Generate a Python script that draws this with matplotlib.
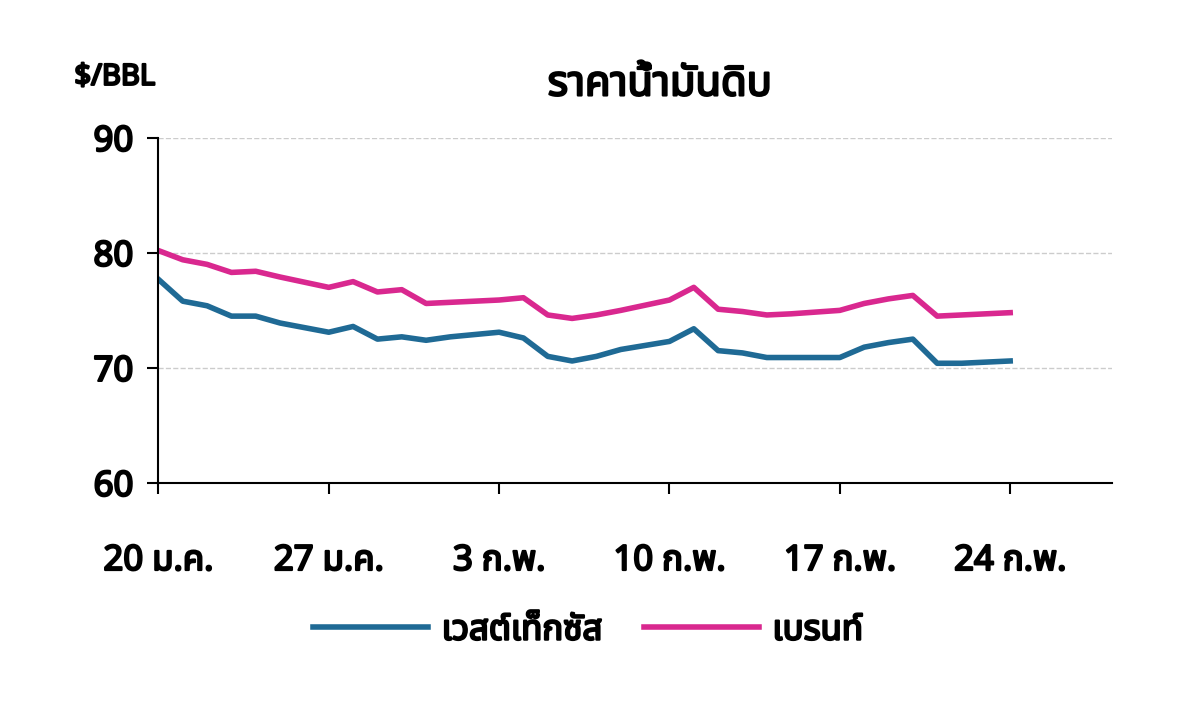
import matplotlib
matplotlib.use("Agg")
import matplotlib.pyplot as plt
import matplotlib.patheffects as pe
from matplotlib import font_manager
from matplotlib.lines import Line2D

# day offsets from 20 Jan
days = [0, 1, 2, 3, 4, 5, 7, 8, 9, 10, 11, 12, 14, 15, 16, 17, 18, 19, 21, 22,
        23, 24, 25, 26, 28, 29, 30, 31, 32, 33, 35]
wti = [77.7, 75.8, 75.4, 74.5, 74.5, 73.9, 73.1, 73.6, 72.5, 72.7, 72.4, 72.7,
       73.1, 72.6, 71.0, 70.6, 71.0, 71.6, 72.3, 73.4, 71.5, 71.3, 70.9, 70.9,
       70.9, 71.8, 72.2, 72.5, 70.4, 70.4, 70.6]
brent = [80.2, 79.4, 79.0, 78.3, 78.4, 77.9, 77.0, 77.5, 76.6, 76.8, 75.6, 75.7,
         75.9, 76.1, 74.6, 74.3, 74.6, 75.0, 75.9, 77.0, 75.1, 74.9, 74.6, 74.7,
         75.0, 75.6, 76.0, 76.3, 74.5, 74.6, 74.8]
tick_days = [0, 7, 14, 21, 28, 35]
tick_labels = ["20 ม.ค.", "27 ม.ค.", "3 ก.พ.", "10 ก.พ.", "17 ก.พ.", "24 ก.พ."]

names = {f.name for f in font_manager.fontManager.ttflist}
thai = [n for n in ["Noto Sans Thai", "Noto Sans Thai Looped", "Loma", "Garuda",
                    "Tlwg Typist", "Noto Sans"] if n in names]
plt.rcParams["font.family"] = thai + ["DejaVu Sans"]
plt.rcParams["font.weight"] = "bold"

heavy = [pe.withStroke(linewidth=1.6, foreground="black")]

fig = plt.figure(figsize=(12, 7.07), dpi=100)
ax = fig.add_axes([0.132, 0.317, 0.795, 0.488])
ax.plot(days, wti, color="#1f6a95", lw=4)
ax.plot(days, brent, color="#d9288f", lw=4)
ax.set_xlim(0, 39.2)
ax.set_ylim(60, 90)
ax.set_yticks([60, 70, 80, 90])
ax.set_xticks(tick_days)
ax.set_xticklabels(tick_labels)
ax.tick_params(axis="y", labelsize=25, length=8, width=1.5, direction="out", pad=10)
ax.tick_params(axis="x", labelsize=25, length=8, width=1.5, pad=36)
for lab in ax.get_xticklabels() + ax.get_yticklabels():
    lab.set_path_effects(heavy)
ax.grid(axis="y", ls="--", color="#cccccc", lw=1)
for s in ["top", "right"]:
    ax.spines[s].set_visible(False)
for s in ["left", "bottom"]:
    ax.spines[s].set_linewidth(1.5)

fig.text(0.062, 0.88, "$/BBL", fontsize=21, path_effects=heavy)
fig.text(0.55, 0.865, "ราคาน้ำมันดิบ", fontsize=30, ha="center", path_effects=heavy)

h = [Line2D([], [], color="#1f6a95", lw=4), Line2D([], [], color="#d9288f", lw=4)]
leg = fig.legend(h, ["เวสต์เท็กซัส", "เบรนท์"], loc="center", bbox_to_anchor=(0.49, 0.108),
                 ncol=2, frameon=False, fontsize=25, handlelength=3.3,
                 handletextpad=0.4, columnspacing=1.2)
for t in leg.get_texts():
    t.set_path_effects(heavy)
fig.savefig("out.png")
